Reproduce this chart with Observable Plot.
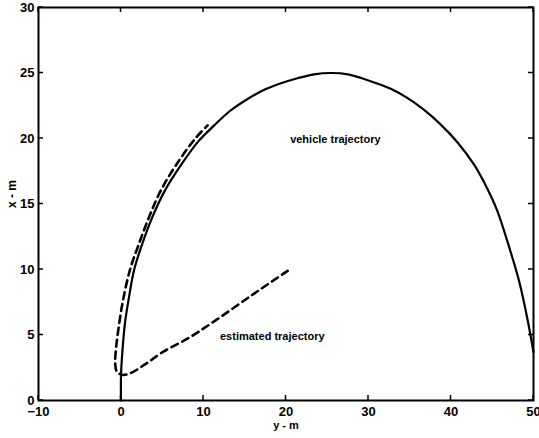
<!DOCTYPE html>
<html><head><meta charset="utf-8">
<script src="https://cdn.jsdelivr.net/npm/d3@7"></script>
<script src="https://cdn.jsdelivr.net/npm/@observablehq/plot@0.6"></script>
<style>body{margin:0;background:#fff;} svg{font-family:"Liberation Sans",Arial,sans-serif;}</style>
</head><body><div id="chart"></div>
<script>
const vehicleY = [0,0,0.2,0.5,1,1.6,2.6,3.8,5.3,7.3,9.4,11.3,13.2,15.3,17.3,19.3,21.4,23.4,25.5,27.5,29.2,30.6,32.7,34.7,36.7,38.7,40.8,42.8,44.3,45.6,47.2,48.3,49.3,50];
const vehicleX = [0,1.9,4,6,8,10,12,14,16,18,19.8,21,22.1,23,23.7,24.2,24.6,24.9,25,24.9,24.6,24.3,23.8,23.1,22.2,21.1,19.7,18,16.3,14.5,11.4,9,6.1,3.7];
const estY = [20.2,16,11.2,8,5.2,3,1.2,0.2,-0.5,-0.7,-0.6,-0.3,0.2,1.1,2.2,3.4,4.8,6.7,9.0,10.5];
const estX = [9.9,8.1,6.0,4.7,3.75,2.8,2.1,1.95,2.2,2.8,4,5.5,7.5,10,12,14,16,18,20,21];
const xTicks = [-10,0,10,20,30,40,50];
const yTicks = [0,5,10,15,20,25,30];
const labels = [
  {y: 20.5, x: 19.9, text: "vehicle trajectory"},
  {y: 12, x: 4.9, text: "estimated trajectory"}
];
const vehicle = vehicleY.map((v,i)=>({y:v, x:vehicleX[i]}));
const est = estY.map((v,i)=>({y:v, x:estX[i]}));

const chart = Plot.plot({
  width: 539, height: 438,
  marginLeft: 38, marginRight: 6, marginTop: 7, marginBottom: 38,
  x: {domain: [-10, 50], ticks: xTicks, label: null},
  y: {domain: [0, 30], ticks: yTicks, label: null},
  style: {fontSize: "13px", fontWeight: "bold", color: "#000"},
  marks: [
    Plot.frame({stroke: "#000", strokeWidth: 2}),
    Plot.axisX({anchor: "bottom", ticks: xTicks, tickSize: 0, tickPadding: 6, fontSize: 13}),
    Plot.axisY({anchor: "left", ticks: yTicks, tickSize: 0, tickPadding: 4, fontSize: 13}),
    Plot.line(vehicle, {x: "y", y: "x", stroke: "#000", strokeWidth: 2.2, curve: "catmull-rom"}),
    Plot.line(est, {x: "y", y: "x", stroke: "#000", strokeWidth: 2.6, strokeDasharray: "7,5", curve: "catmull-rom"}),
    Plot.text(labels, {x: "y", y: "x", text: "text", textAnchor: "start", fontSize: 11, fontWeight: "bold", letterSpacing: "-0.3px"}),
    Plot.text(["y - m"], {frameAnchor: "bottom", dy: 28, text: d => d, fontSize: 11, fontWeight: "bold"}),
    Plot.text(["x - m"], {frameAnchor: "left", dx: -26, dy: 4, rotate: -90, text: d => d, fontSize: 12, fontWeight: "bold"})
  ]
});
document.getElementById("chart").append(chart);

// inward ticks drawn from the chart's own scales
const xs = chart.scale("x"), ys = chart.scale("y");
const g = d3.select(chart).append("g").attr("stroke", "#000").attr("stroke-width", 1.5);
const pTop = ys.apply(30), pBot = ys.apply(0), pLeft = xs.apply(-10), pRight = xs.apply(50);
for (const t of xTicks) {
  const px = xs.apply(t);
  g.append("line").attr("x1", px).attr("x2", px).attr("y1", pBot).attr("y2", pBot - 5);
  g.append("line").attr("x1", px).attr("x2", px).attr("y1", pTop).attr("y2", pTop + 5);
}
for (const t of yTicks) {
  const py = ys.apply(t);
  g.append("line").attr("y1", py).attr("y2", py).attr("x1", pLeft).attr("x2", pLeft + 5);
  g.append("line").attr("y1", py).attr("y2", py).attr("x1", pRight).attr("x2", pRight - 5);
}
</script></body></html>
